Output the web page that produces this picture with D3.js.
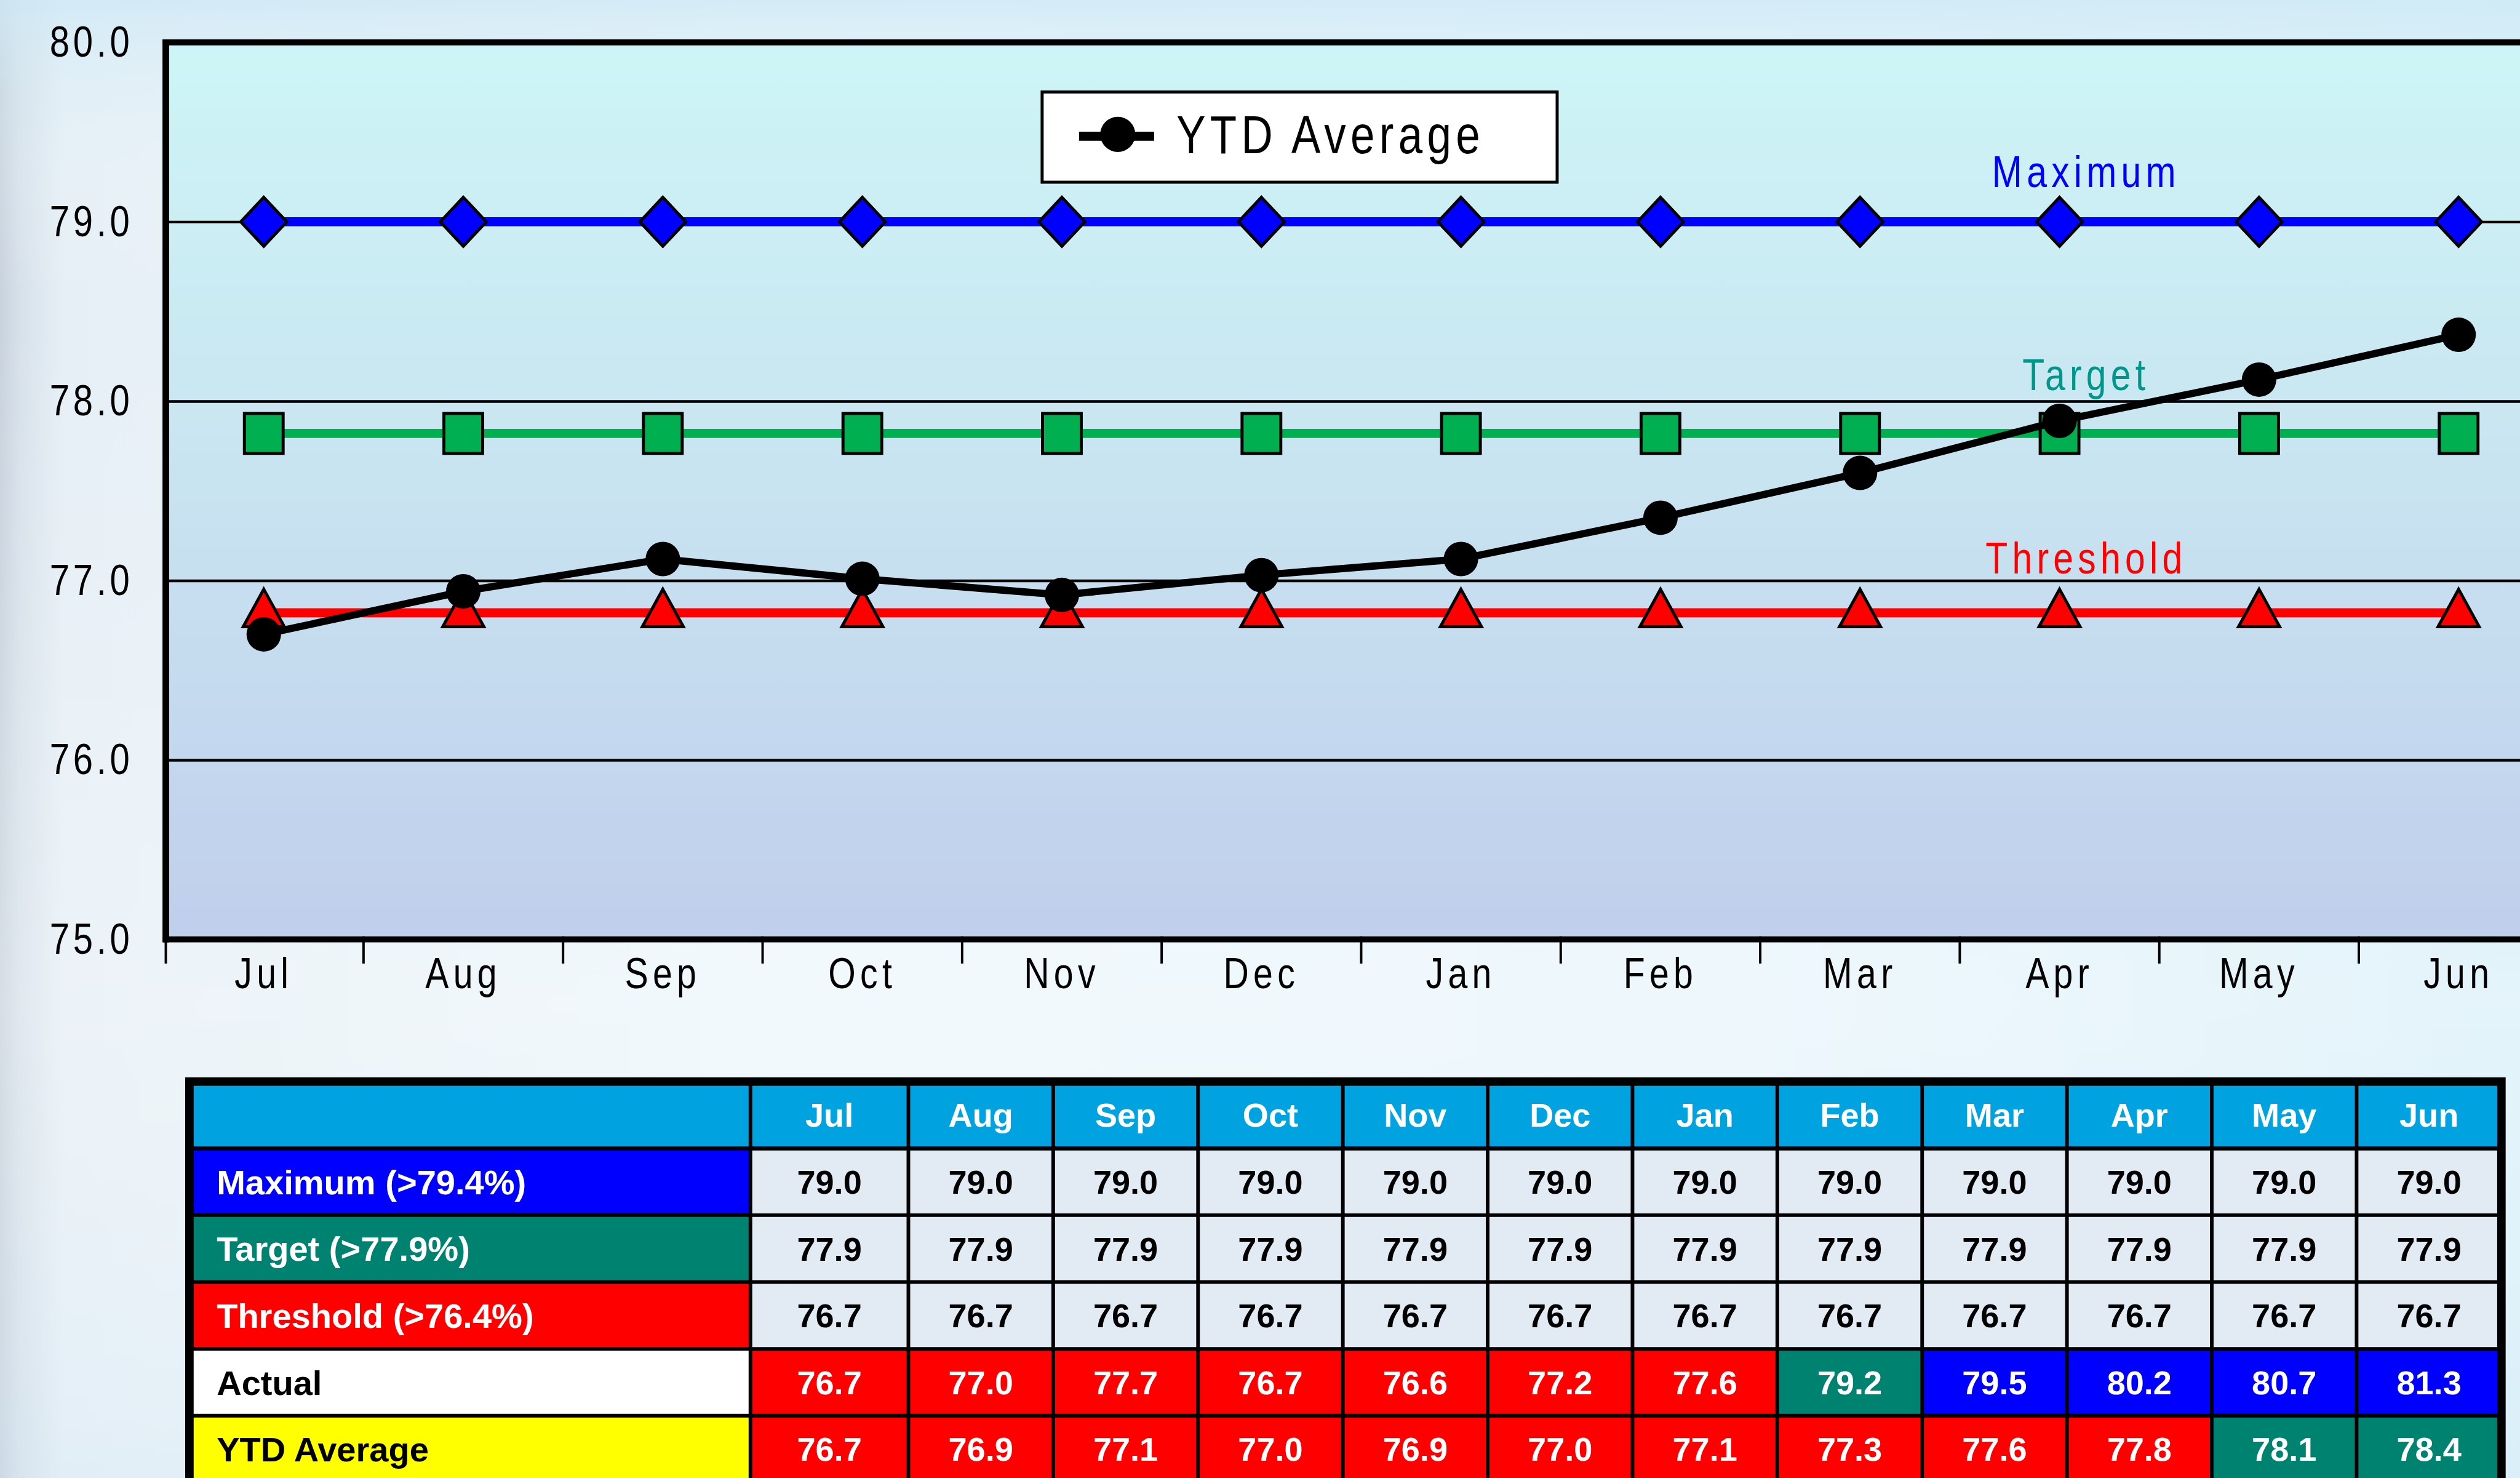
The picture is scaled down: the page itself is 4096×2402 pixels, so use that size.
<!DOCTYPE html>
<html>
<head>
<meta charset="utf-8">
<script src="https://cdn.jsdelivr.net/npm/d3@7"></script>
<style>
  html, body { margin: 0; padding: 0; overflow: hidden; background: #e9f5fb; }
  svg { display: block; }
  text { font-family: "Liberation Sans", Arial, sans-serif; }
</style>
</head>
<body>
<div id="chart"></div>
<script>
// months on the x axis and in the table header
const months = ['Jul', 'Aug', 'Sep', 'Oct', 'Nov', 'Dec', 'Jan', 'Feb', 'Mar', 'Apr', 'May', 'Jun'];
const yTicks = [75, 76, 77, 78, 79, 80];

// levels as they are drawn in the chart
const maximumPlot = [79.0, 79.0, 79.0, 79.0, 79.0, 79.0, 79.0, 79.0, 79.0, 79.0, 79.0, 79.0];
const targetPlot = [77.82, 77.82, 77.82, 77.82, 77.82, 77.82, 77.82, 77.82, 77.82, 77.82, 77.82, 77.82];
const thresholdPlot = [76.82, 76.82, 76.82, 76.82, 76.82, 76.82, 76.82, 76.82, 76.82, 76.82, 76.82, 76.82];
const ytdPlot = [76.70, 76.94, 77.12, 77.01, 76.92, 77.03, 77.12, 77.35, 77.60, 77.89, 78.12, 78.37];

// values printed in the table
const maximumTable = [79.0, 79.0, 79.0, 79.0, 79.0, 79.0, 79.0, 79.0, 79.0, 79.0, 79.0, 79.0];
const targetTable = [77.9, 77.9, 77.9, 77.9, 77.9, 77.9, 77.9, 77.9, 77.9, 77.9, 77.9, 77.9];
const thresholdTable = [76.7, 76.7, 76.7, 76.7, 76.7, 76.7, 76.7, 76.7, 76.7, 76.7, 76.7, 76.7];
const actualTable = [76.7, 77.0, 77.7, 76.7, 76.6, 77.2, 77.6, 79.2, 79.5, 80.2, 80.7, 81.3];
const ytdTable = [76.7, 76.9, 77.1, 77.0, 76.9, 77.0, 77.1, 77.3, 77.6, 77.8, 78.1, 78.4];

const rowLabels = ['Maximum (>79.4%)', 'Target (>77.9%)', 'Threshold (>76.4%)', 'Actual', 'YTD Average'];
const goalMaximum = 79.4;
const goalTarget = 77.9;

// narrow, tracked look of the chart lettering
const SX = 0.82;
function condense(sel, spacing) {
  sel.each(function() {
    const t = d3.select(this);
    const x = +t.attr('x') || 0;
    t.attr('x', x / SX)
      .attr('transform', `scale(${SX},1)`)
      .attr('letter-spacing', spacing);
  });
}

class KpiChart {

  constructor(_config) {
    this.config = {
      parentElement: _config.parentElement,
      width: 4164,
      height: 2442,
      plot: {left: 274, top: 70, bottom: 1552, right: 4229},
      bandStart: 271,
      table: {left: 313, top: 1787, rowH: 110.4, labelW: 927, firstColW: 261, colW: 239.3}
    };
    this.initVis();
  }

  initVis() {
    let vis = this;
    const c = vis.config;

    vis.svg = d3.select(c.parentElement).append('svg')
        .attr('width', 4096)
        .attr('height', 2402)
        .attr('viewBox', `0 0 ${c.width} ${c.height}`)
        .attr('preserveAspectRatio', 'none');

    const defs = vis.svg.append('defs');

    const pageBg = defs.append('linearGradient').attr('id', 'pageBg')
        .attr('x1', 0).attr('x2', 1).attr('y1', 0).attr('y2', 0);
    [[0, '#c8d2dd'], [0.008, '#d7e1ea'], [0.025, '#e6eff6'], [0.3, '#eef7fb'], [0.7, '#e8f5fb'], [1, '#dbf0f9']]
      .forEach(s => pageBg.append('stop').attr('offset', s[0]).attr('stop-color', s[1]));

    const pageTop = defs.append('linearGradient').attr('id', 'pageTop')
        .attr('x1', 0).attr('x2', 0).attr('y1', 0).attr('y2', 1);
    [[0, '#cde9f5', 0.8], [0.06, '#d8eef7', 0.3], [0.2, '#ffffff', 0], [0.68, '#ffffff', 0.25], [0.75, '#ffffff', 0.2], [1, '#d8ecf8', 0.3]]
      .forEach(s => pageTop.append('stop').attr('offset', s[0]).attr('stop-color', s[1]).attr('stop-opacity', s[2]));

    const plotBg = defs.append('linearGradient').attr('id', 'plotBg')
        .attr('x1', 0).attr('x2', 0).attr('y1', 0).attr('y2', 1);
    [[0, '#cdf5f6'], [0.45, '#c9e5f1'], [1, '#c0cfec']]
      .forEach(s => plotBg.append('stop').attr('offset', s[0]).attr('stop-color', s[1]));

    vis.svg.append('rect').attr('width', c.width).attr('height', c.height).attr('fill', 'url(#pageBg)');
    vis.svg.append('rect').attr('width', c.width).attr('height', c.height).attr('fill', 'url(#pageTop)');

    vis.xScale = d3.scaleBand()
        .domain(months)
        .range([c.bandStart, c.bandStart + 12 * 329.7])
        .padding(0);

    vis.yScale = d3.scaleLinear()
        .domain([75, 80])
        .range([c.plot.bottom, c.plot.top]);

    vis.xCenter = d => vis.xScale(d) + vis.xScale.bandwidth() / 2;

    vis.chart = vis.svg.append('g');
    vis.table = vis.svg.append('g');

    vis.renderVis();
    vis.renderTable();
  }

  renderVis() {
    let vis = this;
    const p = vis.config.plot;

    vis.chart.append('rect')
        .attr('x', p.left).attr('y', p.top)
        .attr('width', p.right - p.left).attr('height', p.bottom - p.top)
        .attr('fill', 'url(#plotBg)');

    // horizontal grid lines
    const gridAxis = d3.axisLeft(vis.yScale)
        .tickValues(yTicks.filter(d => d > 75 && d < 80))
        .tickSize(-(p.right - p.left))
        .tickFormat('');
    vis.chart.append('g')
        .attr('class', 'grid')
        .attr('transform', `translate(${p.left},0)`)
        .call(gridAxis)
        .call(g => g.select('.domain').remove())
        .call(g => g.selectAll('line').attr('stroke', '#000').attr('stroke-width', 4.5));

    // y axis labels
    const yAxis = d3.axisLeft(vis.yScale)
        .tickValues(yTicks)
        .tickSize(0)
        .tickPadding(54)
        .tickFormat(d3.format('.1f'));
    vis.chart.append('g')
        .attr('transform', `translate(${p.left},0)`)
        .call(yAxis)
        .call(g => g.select('.domain').remove())
        .call(g => g.selectAll('text')
            .attr('font-size', 72)
            .attr('fill', '#000')
            .style('font-family', '"Liberation Sans", Arial, sans-serif')
            .call(condense, 7));

    // x axis labels
    const xAxis = d3.axisBottom(vis.xScale)
        .tickSize(0)
        .tickPadding(30);
    vis.chart.append('g')
        .attr('transform', `translate(0,${p.bottom})`)
        .call(xAxis)
        .call(g => g.select('.domain').remove())
        .call(g => g.selectAll('text')
            .attr('font-size', 71)
            .attr('fill', '#000')
            .style('font-family', '"Liberation Sans", Arial, sans-serif')
            .call(condense, 9));

    // boundary ticks between months
    const edges = months.map(m => vis.xScale(m)).concat([vis.xScale.range()[1]]);
    vis.chart.append('g').selectAll('line')
        .data(edges)
      .join('line')
        .attr('x1', d => Math.max(d, p.left)).attr('x2', d => Math.max(d, p.left))
        .attr('y1', p.bottom - 5).attr('y2', p.bottom + 40)
        .attr('stroke', '#000').attr('stroke-width', 4);

    // frame
    vis.chart.append('line')
        .attr('x1', p.left - 5).attr('x2', p.right).attr('y1', p.top).attr('y2', p.top)
        .attr('stroke', '#000').attr('stroke-width', 10);
    vis.chart.append('line')
        .attr('x1', p.left - 5).attr('x2', p.right).attr('y1', p.bottom).attr('y2', p.bottom)
        .attr('stroke', '#000').attr('stroke-width', 10);
    vis.chart.append('line')
        .attr('x1', p.left).attr('x2', p.left).attr('y1', p.top - 5).attr('y2', p.bottom + 5)
        .attr('stroke', '#000').attr('stroke-width', 11);

    const markers = {
      diamond: 'M0,-40.5L38,0L0,40.5L-38,0Z',
      square: 'M-32,-33H32V33H-32Z',
      triangle: 'M0,-39L34,23H-34Z'
    };

    const series = [
      {key: 'maximum', values: maximumPlot, color: '#0000ff', width: 15, marker: 'diamond',
        label: 'Maximum', labelColor: '#0000ff', labelDy: -57},
      {key: 'target', values: targetPlot, color: '#00b050', width: 15, marker: 'square',
        label: 'Target', labelColor: '#00968a', labelDy: -72},
      {key: 'threshold', values: thresholdPlot, color: '#ff0000', width: 15, marker: 'triangle',
        label: 'Threshold', labelColor: '#ff0000', labelDy: -65}
    ];

    const line = d3.line()
        .x((d, i) => vis.xCenter(months[i]))
        .y(d => vis.yScale(d));

    series.forEach(s => {
      const g = vis.chart.append('g').attr('class', `series ${s.key}`);
      g.append('path')
          .attr('d', line(s.values))
          .attr('fill', 'none')
          .attr('stroke', s.color)
          .attr('stroke-width', s.width);
      g.selectAll('path.marker')
          .data(s.values)
        .join('path')
          .attr('class', 'marker')
          .attr('transform', (d, i) => `translate(${vis.xCenter(months[i])},${vis.yScale(d)})`)
          .attr('d', markers[s.marker])
          .attr('fill', s.color)
          .attr('stroke', '#000')
          .attr('stroke-width', 5)
          .attr('stroke-linejoin', 'miter');
      g.append('text')
          .attr('x', vis.xCenter('Apr') + 44)
          .attr('y', vis.yScale(s.values[9]) + s.labelDy)
          .attr('text-anchor', 'middle')
          .attr('font-size', 73)
          .attr('fill', s.labelColor)
          .text(s.label)
          .call(condense, 9);
    });

    // YTD average line on top
    const ytd = vis.chart.append('g').attr('class', 'series ytd');
    ytd.append('path')
        .attr('d', line(ytdPlot))
        .attr('fill', 'none')
        .attr('stroke', '#000')
        .attr('stroke-width', 12)
        .attr('stroke-linejoin', 'round');
    ytd.selectAll('circle')
        .data(ytdPlot)
      .join('circle')
        .attr('cx', (d, i) => vis.xCenter(months[i]))
        .attr('cy', d => vis.yScale(d))
        .attr('r', 28.5)
        .attr('fill', '#000');

    // legend
    const legend = vis.chart.append('g').attr('class', 'legend');
    legend.append('rect')
        .attr('x', 1722).attr('y', 152).attr('width', 851).attr('height', 149)
        .attr('fill', '#fff').attr('stroke', '#000').attr('stroke-width', 5);
    legend.append('line')
        .attr('x1', 1783).attr('x2', 1907).attr('y1', 225).attr('y2', 225)
        .attr('stroke', '#000').attr('stroke-width', 15);
    legend.append('circle')
        .attr('cx', 1847).attr('cy', 222).attr('r', 29).attr('fill', '#000');
    legend.append('text')
        .attr('x', 1944).attr('y', 253)
        .attr('font-size', 88)
        .attr('fill', '#000')
        .text('YTD Average')
        .call(condense, 9);
  }

  renderTable() {
    let vis = this;
    const t = vis.config.table;

    const statusColor = v => v >= goalMaximum ? '#0000ff' : (v >= goalTarget ? '#008270' : '#ff0000');

    const rows = [
      {label: rowLabels[0], values: maximumTable, labelFill: '#0000ff', labelText: '#fff', cell: () => '#e2eaf4', cellText: '#000'},
      {label: rowLabels[1], values: targetTable, labelFill: '#008270', labelText: '#fff', cell: () => '#e2eaf4', cellText: '#000'},
      {label: rowLabels[2], values: thresholdTable, labelFill: '#ff0000', labelText: '#fff', cell: () => '#e2eaf4', cellText: '#000'},
      {label: rowLabels[3], values: actualTable, labelFill: '#ffffff', labelText: '#000', cell: statusColor, cellText: '#fff'},
      {label: rowLabels[4], values: ytdTable, labelFill: '#ffff00', labelText: '#000', cell: statusColor, cellText: '#fff'}
    ];

    // column edges
    const edges = [t.left, t.left + t.labelW, t.left + t.labelW + t.firstColW];
    for (let i = 1; i < months.length; i++) edges.push(edges[2] + i * t.colW);
    const right = edges[edges.length - 1];
    const colX = i => edges[i + 1];
    const colW = i => edges[i + 2] - edges[i + 1];
    const rowY = r => t.top + r * t.rowH;
    const fs = 55;
    const fsLabel = 57;

    // header
    vis.table.append('rect')
        .attr('x', t.left).attr('y', rowY(0)).attr('width', right - t.left).attr('height', t.rowH)
        .attr('fill', '#00a3e0');
    vis.table.selectAll('text.head')
        .data(months)
      .join('text')
        .attr('class', 'head')
        .attr('x', (d, i) => colX(i) + colW(i) / 2)
        .attr('y', rowY(0) + t.rowH / 2 + fs * 0.36)
        .attr('text-anchor', 'middle')
        .attr('font-size', fs).attr('font-weight', 'bold')
        .attr('fill', '#fff')
        .text(d => d);

    const rowG = vis.table.selectAll('g.row')
        .data(rows)
      .join('g')
        .attr('class', 'row')
        .attr('transform', (d, r) => `translate(0,${rowY(r + 1)})`);

    rowG.append('rect')
        .attr('x', t.left).attr('y', 0).attr('width', t.labelW).attr('height', t.rowH)
        .attr('fill', d => d.labelFill);
    rowG.append('text')
        .attr('x', t.left + 45)
        .attr('y', t.rowH / 2 + fsLabel * 0.36)
        .attr('font-size', fsLabel).attr('font-weight', 'bold')
        .attr('fill', d => d.labelText)
        .text(d => d.label);

    rowG.each(function(row) {
      const g = d3.select(this);
      g.selectAll('rect.cell')
          .data(row.values)
        .join('rect')
          .attr('class', 'cell')
          .attr('x', (d, i) => colX(i)).attr('y', 0)
          .attr('width', (d, i) => colW(i)).attr('height', t.rowH)
          .attr('fill', d => row.cell(d));
      g.selectAll('text.val')
          .data(row.values)
        .join('text')
          .attr('class', 'val')
          .attr('x', (d, i) => colX(i) + colW(i) / 2)
          .attr('y', t.rowH / 2 + fs * 0.36)
          .attr('text-anchor', 'middle')
          .attr('font-size', fs).attr('font-weight', 'bold')
          .attr('fill', row.cellText)
          .text(d => d3.format('.1f')(d));
    });

    // grid lines
    const bottom = rowY(rows.length + 1);
    vis.table.append('g').selectAll('line.h')
        .data(d3.range(1, rows.length + 1))
      .join('line')
        .attr('x1', t.left).attr('x2', right)
        .attr('y1', r => rowY(r)).attr('y2', r => rowY(r))
        .attr('stroke', '#000').attr('stroke-width', r => r === 1 ? 7 : 6);
    vis.table.append('g').selectAll('line.v')
        .data(edges.slice(1, -1))
      .join('line')
        .attr('x1', d => d).attr('x2', d => d)
        .attr('y1', t.top).attr('y2', bottom)
        .attr('stroke', '#000').attr('stroke-width', 6);
    vis.table.append('rect')
        .attr('x', t.left).attr('y', t.top)
        .attr('width', right - t.left).attr('height', bottom - t.top)
        .attr('fill', 'none').attr('stroke', '#000').attr('stroke-width', 14);
  }
}

new KpiChart({parentElement: '#chart'});
</script>
</body>
</html>
